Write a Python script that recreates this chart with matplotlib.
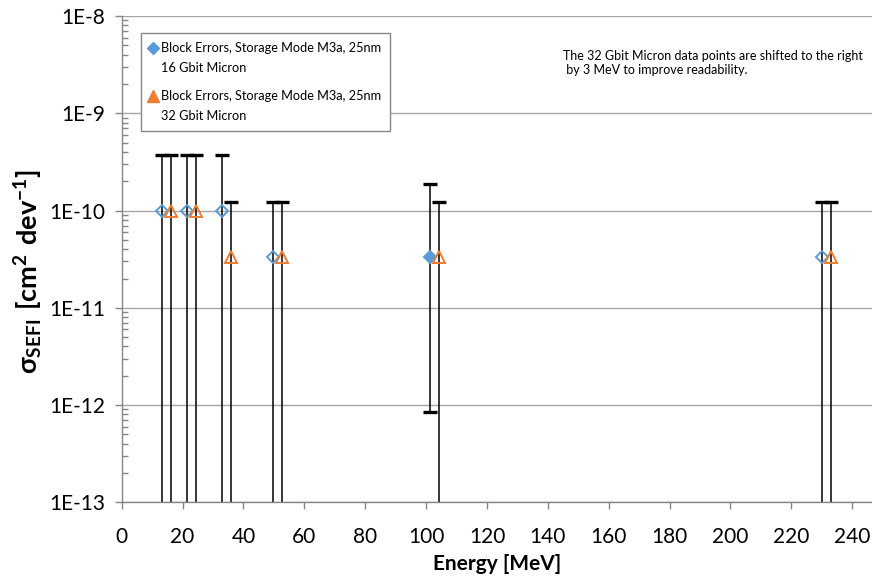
import numpy as np
import matplotlib
matplotlib.use("Agg")
from matplotlib import pyplot as plt
from matplotlib.legend_handler import HandlerLine2D
from matplotlib.lines import Line2D
from matplotlib.ticker import FixedLocator, FuncFormatter, NullFormatter

plt.rcParams["font.family"] = ["Lato", "DejaVu Sans"]
plt.rcParams["mathtext.fontset"] = "custom"
plt.rcParams["mathtext.rm"] = "Lato"
plt.rcParams["mathtext.bf"] = "Lato:bold"

# 16 Gbit Micron, Storage Mode M3a
energy_16 = [13.2, 21.3, 33.0, 49.6, 101.4, 230.0]
sigma_16 = [1.0e-10, 1.0e-10, 1.0e-10, 3.33e-11, 3.33e-11, 3.33e-11]
upper_16 = [3.69e-10, 3.69e-10, 3.69e-10, 1.23e-10, 1.86e-10, 1.23e-10]
lower_16 = [None, None, None, None, 8.4e-13, None]  # None: no event, bar runs to 0
events_16 = [0, 0, 0, 0, 1, 0]

# 32 Gbit Micron (shifted by +3 MeV)
energy_32 = [16.2, 24.3, 36.0, 52.6, 104.4, 233.0]
sigma_32 = [1.0e-10, 1.0e-10, 3.33e-11, 3.33e-11, 3.33e-11, 3.33e-11]
upper_32 = [3.69e-10, 3.69e-10, 1.23e-10, 1.23e-10, 1.23e-10, 1.23e-10]
lower_32 = [None, None, None, None, None, None]
events_32 = [0, 0, 0, 0, 0, 0]

x_ticks = list(range(0, 241, 20))
y_decades = [-13, -12, -11, -10, -9, -8]

label_16 = "Block Errors, Storage Mode M3a, 25nm\n16 Gbit Micron"
label_32 = "Block Errors, Storage Mode M3a, 25nm\n32 Gbit Micron"
note = ("The 32 Gbit Micron data points are shifted to the right\n"
        " by 3 MeV to improve readability.")

blue = "#5B9BD5"
orange = "#ED7D31"
gray = "#868686"


def yerr(sigma, upper, lower):
    lo = [s - (l if l is not None else 1e-16) for s, l in zip(sigma, lower)]
    hi = [u - s for s, u in zip(sigma, upper)]
    return np.array([lo, hi])


class FirstLineHandler(HandlerLine2D):
    """Puts the legend marker beside the first line of a two-line label"""

    def __init__(self, shift, **kw):
        super().__init__(**kw)
        self.shift = shift

    def create_artists(self, legend, orig_handle, xdescent, ydescent, width,
                       height, fontsize, trans):
        return super().create_artists(legend, orig_handle, xdescent,
                                      ydescent - 2 * self.shift, width, height,
                                      fontsize, trans)


fig = plt.figure(figsize=(8.72, 5.85), dpi=100)
ax = fig.add_axes([121.7 / 872, 1 - 502.3 / 585, (872 - 121.7) / 872, (502.3 - 16) / 585])

for energy, sigma, upper, lower, events, color, marker, ms in [
    (energy_16, sigma_16, upper_16, lower_16, events_16, blue, "D", 6),
    (energy_32, sigma_32, upper_32, lower_32, events_32, orange, "^", 8.5),
]:
    ax.errorbar(energy, sigma, yerr=yerr(sigma, upper, lower), fmt="none",
                ecolor="black", elinewidth=1.1, capsize=4.7, capthick=2.4, zorder=2)
    for e, s, n in zip(energy, sigma, events):
        ax.plot(e, s, marker=marker, ms=ms, mew=1.4, mec=color,
                mfc=color if n > 0 else "none", ls="none", zorder=3)

ax.set_yscale("log")
ax.set_ylim(10.0 ** y_decades[0], 10.0 ** y_decades[-1])
ax.set_xlim(0, 246.5)

major_y = [10.0 ** d for d in y_decades]
minor_y = [m * 10.0 ** d for d in y_decades[:-1] for m in range(2, 10)]
ax.xaxis.set_major_locator(FixedLocator(x_ticks))
ax.yaxis.set_major_locator(FixedLocator(major_y))
ax.yaxis.set_minor_locator(FixedLocator(minor_y))
ax.yaxis.set_minor_formatter(NullFormatter())
ax.yaxis.set_major_formatter(FuncFormatter(lambda v, p: f"1E{int(round(np.log10(v)))}"))

ax.grid(axis="y", which="major", color="#A6A6A6", lw=1.0)
ax.set_axisbelow(True)
for side in ["top", "right"]:
    ax.spines[side].set_visible(False)
for side in ["left", "bottom"]:
    ax.spines[side].set_color(gray)
    ax.spines[side].set_linewidth(1.0)

ax.tick_params(axis="both", which="major", direction="out", length=5, color=gray,
               labelsize=15, width=1.0)
ax.tick_params(axis="x", which="major", pad=12.5)
ax.tick_params(axis="y", which="major", pad=7)
ax.tick_params(axis="y", which="minor", direction="in", length=4, color=gray, width=1.0)

ax.set_xlabel("Energy [MeV]", fontsize=15, fontweight="bold", labelpad=5)
ax.set_ylabel(r"$\mathbf{\sigma_{SEFI}\ [cm^{2}\ dev^{-1}]}$", fontsize=19.5)
ax.yaxis.set_label_coords(-0.102, 0.474)

handles = [
    Line2D([], [], marker="D", ms=6, color=blue, ls="none"),
    Line2D([], [], marker="^", ms=8.5, color=orange, ls="none"),
]
leg = ax.legend(handles, [label_16, label_32], loc="upper left",
                bbox_to_anchor=(19.3 / 750.3, 1 - 17 / 486.3), borderaxespad=0,
                fontsize=9.2, frameon=True, fancybox=False, edgecolor=gray,
                framealpha=1, handlelength=0.4, handletextpad=0.45, borderpad=0.72,
                labelspacing=1.25,
                handler_map={h: FirstLineHandler(shift=7.8) for h in handles})
leg.get_frame().set_linewidth(1.0)
for t in leg.get_texts():
    t.set_linespacing(1.8)

ax.text(0.588, 0.930, note, transform=ax.transAxes, fontsize=9, va="top",
        ha="left", linespacing=1.2)

fig.savefig("out.png", dpi=100)
